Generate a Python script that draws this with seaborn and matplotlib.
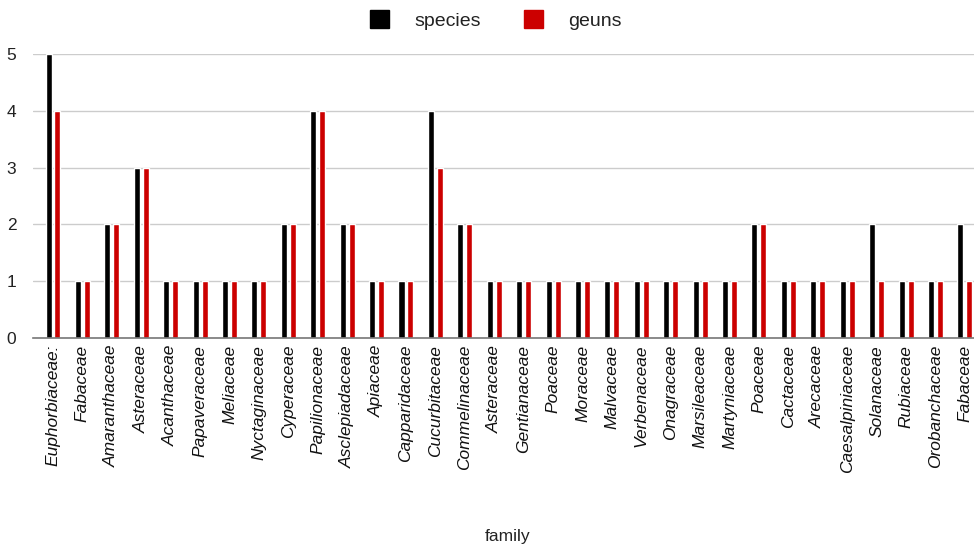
import matplotlib
matplotlib.use("Agg")
import matplotlib.pyplot as plt
import seaborn as sns
import pandas as pd
from matplotlib.patches import Patch

families = [
    "Euphorbiaceae:", "Fabaceae", "Amaranthaceae", "Asteraceae", "Acanthaceae",
    "Papaveraceae", "Meliaceae", "Nyctaginaceae", "Cyperaceae", "Papilionaceae",
    "Asclepiadaceae", "Apiaceae", "Capparidaceae", "Cucurbitaceae", "Commelinaceae",
    "Asteraceae", "Gentianaceae", "Poaceae", "Moraceae", "Malvaceae",
    "Verbenaceae", "Onagraceae", "Marsileaceae", "Martyniaceae", "Poaceae",
    "Cactaceae", "Arecaceae", "Caesalpiniaceae", "Solanaceae", "Rubiaceae",
    "Orobanchaceae", "Fabaceae",
]
species = [5, 1, 2, 3, 1, 1, 1, 1, 2, 4, 2, 1, 1, 4, 2, 1, 1, 1, 1, 1,
           1, 1, 1, 1, 2, 1, 1, 1, 2, 1, 1, 2]
geuns = [4, 1, 2, 3, 1, 1, 1, 1, 2, 4, 2, 1, 1, 3, 2, 1, 1, 1, 1, 1,
         1, 1, 1, 1, 2, 1, 1, 1, 1, 1, 1, 1]
series_names = ["species", "geuns"]
colors = ["#000000", "#cc0000"]

n = len(families)
df = pd.DataFrame({
    "pos": list(range(n)) * 2,
    "count": species + geuns,
    "series": [series_names[0]] * n + [series_names[1]] * n,
})

sns.set_style("white")
plt.rcParams["font.family"] = ["Liberation Sans", "DejaVu Sans"]

fig = plt.figure(figsize=(9.74, 5.45), dpi=100)
ax = fig.add_axes([33 / 974, 1 - 338 / 545, 1 - 33 / 974, (338 - 54) / 545])

sns.barplot(data=df, x="pos", y="count", hue="series", hue_order=series_names,
            palette=colors, width=0.61, gap=0.33, saturation=1,
            legend=False, ax=ax)

ax.set_ylim(0, 5)
ax.set_xlim(-0.68, n - 1 + 0.31)
ax.set_yticks(range(6))
ax.yaxis.grid(True, color="#cccccc", linewidth=1)
ax.set_axisbelow(True)
for s in ["top", "right", "left"]:
    ax.spines[s].set_visible(False)
ax.spines["bottom"].set_color("#777777")
ax.spines["bottom"].set_linewidth(1.2)

ax.set_xticks(range(n))
ax.set_xticklabels(families, rotation=90, fontstyle="italic", fontsize=12.5,
                   color="#111111")
ax.tick_params(axis="x", length=0, pad=5)
ax.tick_params(axis="y", length=0, pad=12, labelsize=12.5, labelcolor="#222222")

ax.set_xlabel("family", fontsize=12.5, color="#222222", va="center")
ax.xaxis.set_label_coords((508 - 33) / (974 - 33), -(536 - 338) / (338 - 54))
ax.set_ylabel("")

handles = [Patch(facecolor=c, edgecolor=c) for c in colors]
fig.legend(handles, series_names, loc="center", bbox_to_anchor=(496 / 974, 1 - 20 / 545),
           ncol=2, frameon=False, fontsize=14, handlelength=1.0, handleheight=1.0,
           columnspacing=2.2, handletextpad=1.3, labelcolor="#222222")

fig.savefig("out.png", dpi=100)
